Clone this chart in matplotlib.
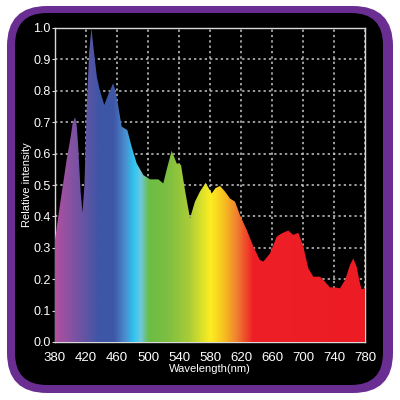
import numpy as np
import matplotlib.pyplot as plt
from matplotlib.colors import LinearSegmentedColormap
from matplotlib.patches import FancyBboxPatch

plt.rcParams['font.family'] = ['Liberation Sans', 'DejaVu Sans']

# spectrum
wavelength = [380, 386, 395, 400, 403, 406, 408, 410, 413, 415.5, 418, 421,
              424, 427, 430, 434, 438, 443.6, 449, 455, 458, 461.7, 466, 470,
              473.3, 478.9, 485.4, 493.9, 502.6, 513.3, 519.7, 524, 530.5,
              537, 542.6, 547.7, 554.2, 560.6, 567, 574.4, 582.2, 587, 592.9,
              599.4, 605.8, 612.3, 618.7, 627.4, 636, 644, 648.8, 657.4, 666,
              672.5, 681, 687.5, 694, 700.4, 706.8, 713.3, 722, 728.4, 734.8,
              741.3, 747.7, 754.2, 760.6, 764.9, 769.2, 773.5, 775.7, 780]
intensity = [0.325, 0.43, 0.58, 0.65, 0.70, 0.716, 0.69, 0.62, 0.48, 0.412,
             0.50, 0.75, 0.92, 1.0, 0.93, 0.845, 0.80, 0.755, 0.79, 0.824,
             0.80, 0.75, 0.686, 0.68, 0.675, 0.622, 0.569, 0.532, 0.518,
             0.518, 0.505, 0.548, 0.609, 0.569, 0.564, 0.484, 0.394, 0.447,
             0.479, 0.507, 0.473, 0.49, 0.497, 0.479, 0.457, 0.447, 0.404,
             0.357, 0.304, 0.262, 0.256, 0.282, 0.335, 0.346, 0.355, 0.341,
             0.348, 0.304, 0.235, 0.208, 0.208, 0.192, 0.174, 0.174, 0.171,
             0.197, 0.245, 0.266, 0.24, 0.187, 0.168, 0.171]

# rainbow colour stops (wavelength, colour)
stop_nm = [380, 436, 455, 470, 481, 490, 500, 526, 552, 580, 597, 614, 635, 780]
stop_col = ['#b04fa0', '#3e56a6', '#3e56a6', '#4a8fd0', '#2cc5f0', '#70c8e0',
            '#6bbd45', '#7fbf40', '#a8cc38', '#fcee21', '#f7c220', '#f08030',
            '#ee1f26', '#ed1c24']

fig = plt.figure(figsize=(4, 4), dpi=100)
fig.patch.set_facecolor('white')

# purple frame and black panel
fig.patches.append(FancyBboxPatch((0.1175, 0.1175), 0.765, 0.7675,
                                  boxstyle='round,pad=0.1', transform=fig.transFigure,
                                  facecolor='#6a2d91', edgecolor='none', zorder=-10))
fig.patches.append(FancyBboxPatch((0.1175, 0.1175), 0.76, 0.77,
                                  boxstyle='round,pad=0.08', transform=fig.transFigure,
                                  facecolor='black', edgecolor='none', zorder=-9))

ax = fig.add_axes([0.1375, 0.145, 0.775, 0.785])
ax.set_facecolor('black')
ax.patch.set_alpha(0)

x = np.array(wavelength)
y = np.array(intensity)

poly = ax.fill_between(x, 0, y, facecolor='none', edgecolor='none')
cmap = LinearSegmentedColormap.from_list(
    'spec', [((n - 380) / 400, c) for n, c in zip(stop_nm, stop_col)])
grad = np.linspace(0, 1, 800).reshape(1, -1)
im = ax.imshow(grad, extent=[380, 780, 0, 1], aspect='auto', cmap=cmap,
               origin='lower', zorder=3)
im.set_clip_path(poly.get_paths()[0], transform=ax.transData)

ax.set_xlim(380, 780)
ax.set_ylim(0, 1)
ax.set_xticks(np.arange(380, 781, 40))
ax.set_yticks(np.arange(0, 1.01, 0.1))
ax.set_yticklabels([f'{v:.1f}' for v in np.arange(0, 1.01, 0.1)])
ax.grid(True, color='#c8c8c8', linestyle=(0, (1.5, 2)), linewidth=1.1)
ax.set_axisbelow(True)
for s in ax.spines.values():
    s.set_color('#d8d8d8')
    s.set_linewidth(1)
ax.tick_params(colors='white', labelsize=9.5, color='#d8d8d8')
ax.tick_params(axis='y', length=2, pad=1, labelsize=9)
ax.tick_params(axis='x', length=0, pad=7)
ax.set_xlabel('Wavelength(nm)', color='white', fontsize=8, labelpad=0)
ax.set_ylabel('Relative intensity', color='white', fontsize=8, labelpad=1)

fig.savefig('out.png', dpi=100, facecolor='white')
